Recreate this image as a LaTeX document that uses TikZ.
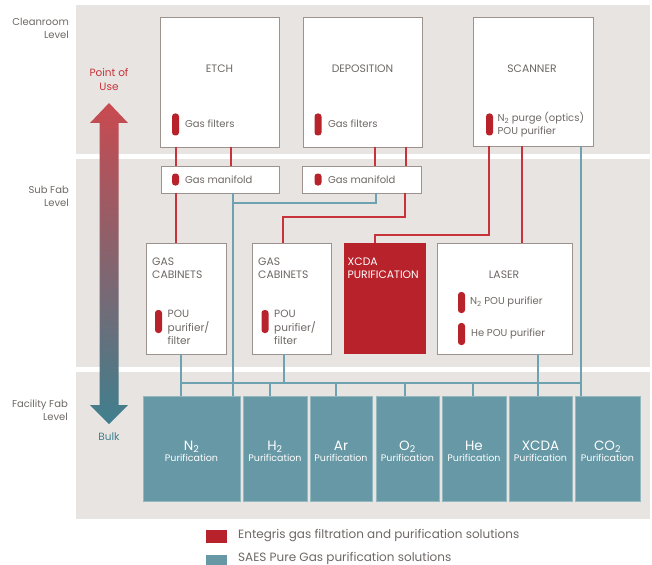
\documentclass[tikz,border=0pt]{standalone}
\usepackage{fontspec}
\setmainfont{Poppins}
\definecolor{panel}{HTML}{E8E4E1}
\definecolor{ered}{HTML}{B8222A}
\definecolor{eline}{HTML}{C8323A}
\definecolor{steal}{HTML}{6698A5}
\definecolor{sline}{HTML}{6FA2B0}
\definecolor{txt}{HTML}{6E6865}
\definecolor{bord}{HTML}{9C938E}
\definecolor{poured}{HTML}{C94A50}
\definecolor{bulkteal}{HTML}{3F7F8E}
\tikzset{
  wbox/.style={draw=bord, line width=0.8pt, fill=white, inner sep=0pt},
  tbox/.style={draw=steal!70!white, line width=0.6pt, fill=steal, inner sep=0pt, minimum height=105pt},
  pill/.style={fill=ered, rounded corners=3pt, inner sep=0pt, minimum width=7pt},
  lbl/.style={text=txt, font=\fontsize{10}{13}\selectfont, inner sep=0pt},
  ttl/.style={text=txt, font=\fontsize{10.8}{13}\selectfont, inner sep=0pt},
  lev/.style={text=txt, font=\fontsize{10}{13.5}\selectfont, inner sep=0pt, align=right, anchor=east},
  rl/.style={draw=eline, line width=1.1pt, line cap=rect},
  bl/.style={draw=sline, line width=1.1pt, line cap=rect},
  blab/.style={text=white, align=center, inner sep=0pt},
}
\newcommand{\bb}[1]{{\fontsize{13.5}{14}\selectfont #1}\\[-1pt]{\fontsize{9.5}{11}\selectfont Purification}}
\begin{document}
\begin{tikzpicture}[x=1pt,y=-1pt]
\useasboundingbox (0,0) rectangle (652,564);
% panels
\fill[panel] (76,5) rectangle (650,154);
\fill[panel] (76,159) rectangle (650,367);
\fill[panel] (76,372) rectangle (650,519);

% level labels
\node[lev] (lv1) at (69,28.5) {Cleanroom\\Level};
\node[lev] (lv2) at (69,196.5) {Sub Fab\\Level};
\node[lev] (lv3) at (68,410) {Facility Fab\\Level};

% arrow
\shade[top color=poured, middle color=bulkteal!45!poured!85!gray, bottom color=bulkteal]
  (109,103) -- (128,123) -- (118.5,123) -- (118.5,405) -- (128,405) -- (109,424)
  -- (90,405) -- (99.5,405) -- (99.5,123) -- (90,123) -- cycle;
\node[text=eline, align=center, font=\fontsize{10.5}{14}\selectfont, inner sep=0pt] (pou) at (109,80) {Point of\\Use};
\node[text=bulkteal, font=\fontsize{10.5}{13}\selectfont, inner sep=0pt] (bulk) at (109,437) {Bulk};

% cleanroom tools
\node[wbox, minimum width=119pt, minimum height=130pt] (etch) at (219.5,82) {};
\node[wbox, minimum width=119pt, minimum height=130pt] (dep) at (362.5,82) {};
\node[wbox, minimum width=120pt, minimum height=129pt] (scan) at (533,81.5) {};
\node[ttl] (etcht) at (219.5,69) {ETCH};
\node[ttl] (dept) at (362.5,69) {DEPOSITION};
\node[ttl] (scant) at (532,69) {SCANNER};
\node[pill, minimum height=22pt] (etchp) at (175.5,124.5) {};
\node[lbl, anchor=west] (etchf) at (185,124) {Gas filters};
\node[pill, minimum height=22pt] (depp) at (318,124.5) {};
\node[lbl, anchor=west] (depf) at (328,124) {Gas filters};
\node[pill, minimum height=22pt] (scanp) at (489.5,124.5) {};
\node[lbl, anchor=west, align=left] (scanf) at (497.5,125) {N\textsubscript{2} purge (optics)\\POU purifier};

% manifolds
\node[wbox, minimum width=118pt, minimum height=27pt] (man1) at (220,179.5) {};
\node[wbox, minimum width=119pt, minimum height=27pt] (man2) at (361.5,179.5) {};
\node[pill, minimum height=12pt] (man1p) at (175.5,179.5) {};
\node[lbl, anchor=west] (man1t) at (185,179.5) {Gas manifold};
\node[pill, minimum height=12pt] (man2p) at (318,179.5) {};
\node[lbl, anchor=west] (man2t) at (328,179.5) {Gas manifold};

% sub fab boxes
\node[wbox, minimum width=80pt, minimum height=111pt] (gc1) at (186,298.5) {};
\node[wbox, minimum width=79pt, minimum height=111pt] (gc2) at (291.5,298.5) {};
\node[fill=ered, inner sep=0pt, minimum width=82pt, minimum height=111pt] (xcda) at (385,298.5) {};
\node[wbox, minimum width=135pt, minimum height=111pt] (laser) at (504.5,298.5) {};
\node[ttl, anchor=west, align=left] (gc1t) at (152,268.5) {GAS\\CABINETS};
\node[ttl, anchor=west, align=left] (gc2t) at (258,268.5) {GAS\\CABINETS};
\node[pill, minimum height=23pt] (gc1p) at (158.5,321.5) {};
\node[lbl, anchor=west, align=left, font=\fontsize{10.5}{13.5}\selectfont] (gc1f) at (167.5,327.5) {POU\\purifier/\\filter};
\node[pill, minimum height=23pt] (gc2p) at (265,321.5) {};
\node[lbl, anchor=west, align=left, font=\fontsize{10.5}{13.5}\selectfont] (gc2f) at (274,327.5) {POU\\purifier/\\filter};
\node[text=white, font=\fontsize{10.8}{13}\selectfont, inner sep=0pt, anchor=west, align=left] (xcdat) at (347.5,268) {XCDA\\PURIFICATION};
\node[ttl] (lasert) at (504,275) {LASER};
\node[pill, minimum height=21pt] (lp1) at (461.5,302.5) {};
\node[lbl, anchor=west] (lt1) at (470,302) {N\textsubscript{2} POU purifier};
\node[pill, minimum height=22pt] (lp2) at (461.5,334) {};
\node[lbl, anchor=west] (lt2) at (471,334) {He POU purifier};

% facility boxes
\node[tbox, minimum width=97pt] (n2) at (191.5,448.5) {};
\node[tbox, minimum width=64pt] (h2) at (275,448.5) {};
\node[tbox, minimum width=62pt] (ar) at (341,448.5) {};
\node[tbox, minimum width=63pt] (o2) at (407.5,448.5) {};
\node[tbox, minimum width=64pt] (he) at (474,448.5) {};
\node[tbox, minimum width=63pt] (xc) at (540.5,448.5) {};
\node[tbox, minimum width=65pt] (co2) at (607.5,448.5) {};
\node[blab] (n2t) at (191.5,451) {\bb{N\textsubscript{2}}};
\node[blab] (h2t) at (275,451) {\bb{H\textsubscript{2}}};
\node[blab] (art) at (341,451) {\bb{Ar}};
\node[blab] (o2t) at (407.5,451) {\bb{O\textsubscript{2}}};
\node[blab] (het) at (474,451) {\bb{He}};
\node[blab] (xct) at (540.5,451) {\bb{XCDA}};
\node[blab] (co2t) at (607.5,451) {\bb{CO\textsubscript{2}}};

% corner coordinates
\coordinate (ra) at (405,217);
\coordinate (rb) at (283,217);
\coordinate (rc) at (489,235);
\coordinate (rd) at (375,235);
\coordinate (ba) at (376,203);
\coordinate (bb) at (233,203);

% red connectors
\draw[rl] (176,0 |- etch.south) -- (176,0 |- man1.north);
\draw[rl] (231,0 |- etch.south) -- (231,0 |- man1.north);
\draw[rl] (375,0 |- dep.south) -- (375,0 |- man2.north);
\draw[rl] (406,0 |- dep.south) -- (406,0 |- man2.north);
\draw[rl] (176,0 |- man1.south) -- (176,0 |- gc1.north);
\draw[rl] (ra |- man2.south) -- (ra);
\draw[rl] (ra) -- (rb);
\draw[rl] (rb) -- (rb |- gc2.north);
\draw[rl] (rc |- scan.south) -- (rc);
\draw[rl] (rc) -- (rd);
\draw[rl] (rd) -- (rd |- xcda.north);
\draw[rl] (522,0 |- scan.south) -- (522,0 |- laser.north);

% blue connectors
\draw[bl] (233,0 |- man1.south) -- (233,0 |- n2.north);
\draw[bl] (ba |- man2.south) -- (ba);
\draw[bl] (ba) -- (bb);
\draw[bl] (181,0 |- gc1.south) -- (181,0 |- n2.north);
\draw[bl] (284,0 |- gc2.south) -- (284,383);
\draw[bl] (181,383) -- (581,383);
\draw[bl] (270,383) -- (270,0 |- h2.north);
\draw[bl] (336,383) -- (336,0 |- ar.north);
\draw[bl] (405,383) -- (405,0 |- o2.north);
\draw[bl] (473,383) -- (473,0 |- he.north);
\draw[bl] (538,0 |- laser.south) -- (538,0 |- xc.north);
\draw[bl] (581,0 |- scan.south) -- (581,0 |- co2.north);

% legend
\node[fill=ered, inner sep=0pt, minimum width=21pt, minimum height=13pt] (lgr) at (216.5,536.5) {};
\node[text=txt, font=\fontsize{12}{13}\selectfont, inner sep=0pt, anchor=west] (lgrt) at (238,536) {Entegris gas filtration and purification solutions};
\node[fill=steal, inner sep=0pt, minimum width=21pt, minimum height=13pt] (lgb) at (216.5,561) {};
\node[text=txt, font=\fontsize{12}{13}\selectfont, inner sep=0pt, anchor=west] (lgbt) at (238,558) {SAES Pure Gas purification solutions};
\end{tikzpicture}
\end{document}
